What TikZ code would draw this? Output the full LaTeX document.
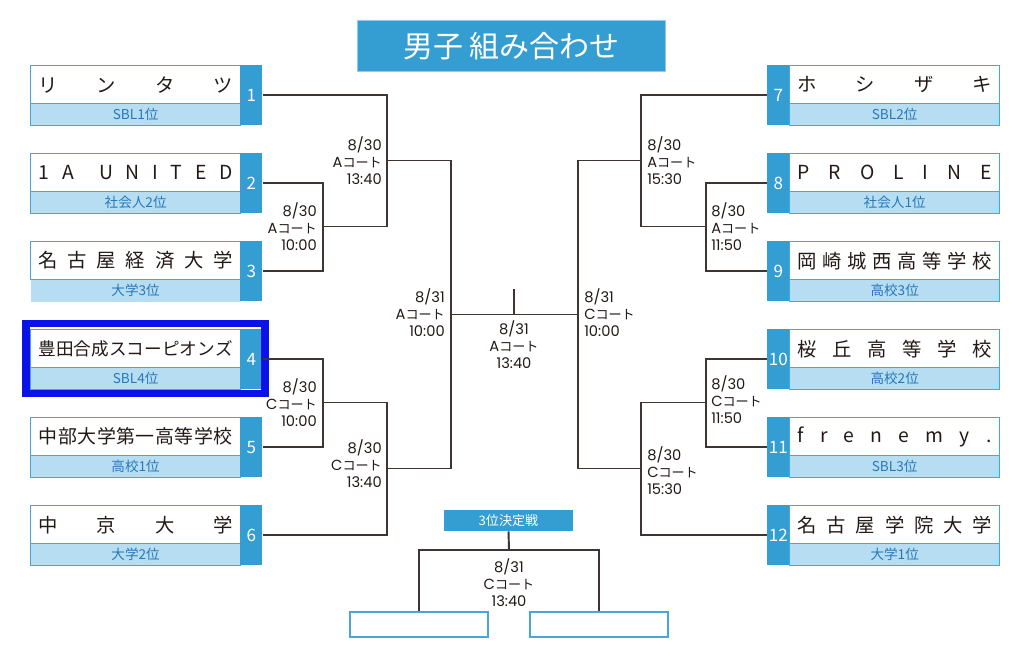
\documentclass[tikz,border=0pt]{standalone}
\usepackage{fontspec}
\setmainfont{Noto Sans CJK JP}
\newfontfamily\lat{Poppins}
\definecolor{mainblue}{RGB}{52,157,209}
\definecolor{lightblue}{RGB}{182,221,242}
\definecolor{borderblue}{RGB}{72,166,220}
\definecolor{subtext}{RGB}{38,120,186}
\definecolor{linec}{RGB}{62,52,50}
\definecolor{hlblue}{RGB}{10,18,232}
\definecolor{namec}{RGB}{35,26,24}
\newcommand\latf{\lat\fontsize{11}{12.75}\selectfont}
\newcommand\lab[3]{{\latf #1}\\{\latf #2}コート\\{\latf #3}}
\tikzset{
  namebox/.style={draw=borderblue,line width=1pt,fill=white,minimum width=157.5pt,minimum height=28.5pt,inner sep=0pt,text=namec,font=\fontsize{14.5}{16}\selectfont},
  subbox/.style={draw=borderblue,line width=1pt,fill=lightblue,minimum width=157.5pt,minimum height=16.5pt,inner sep=0pt,text=subtext,font=\fontsize{10.2}{11}\selectfont},
  numbox/.style={fill=mainblue,minimum width=16.5pt,minimum height=45pt,inner sep=0pt,text=white,font=\fontsize{12.8}{14}\selectfont},
  conn/.style={draw=linec,line width=1.45pt},
  lblr/.style={anchor=east,align=right,inner sep=0pt,text=namec,font=\fontsize{9.8}{12.75}\selectfont},
  lbll/.style={anchor=west,align=left,inner sep=0pt,text=namec,font=\fontsize{9.8}{12.75}\selectfont},
  lblc/.style={align=center,inner sep=0pt,text=namec,font=\fontsize{9.8}{12.75}\selectfont},
  titlebox/.style={fill=mainblue,draw=borderblue!60,line width=0.8pt,minimum width=231pt,minimum height=38pt,inner sep=0pt,text=white,font=\fontsize{22.5}{26}\selectfont},
  thirdbox/.style={fill=mainblue,minimum width=96.75pt,minimum height=15.75pt,inner sep=0pt,text=white,font=\fontsize{9.8}{11}\selectfont},
  emptybox/.style={draw=borderblue,line width=1.2pt,fill=white,minimum width=103.5pt,minimum height=18.75pt,inner sep=0pt},
  hlframe/.style={draw=hlblue,line width=5.3pt,minimum width=179.25pt,minimum height=52.5pt,inner sep=0pt}
}
\newcommand\LTeam[5][]{%
  \node[namebox,anchor=north west] (a#2) at (30,#3) {\hbox to 145.5pt{#4}};
  \node[subbox,anchor=north west,#1] (s#2) at (30,#3+38) {#5};
  \node[numbox,anchor=north west] (n#2) at (240,#3) {#2};
}
\newcommand\RTeam[5][]{%
  \node[namebox,anchor=north west] (a#2) at (789,#3) {\hbox to 145.5pt{#4}};
  \node[subbox,anchor=north west,#1] (s#2) at (789,#3+38) {#5};
  \node[numbox,anchor=north west] (n#2) at (767,#3) {#2};
}
\begin{document}
\begin{tikzpicture}[x=0.75pt,y=-0.75pt]
\fill[white] (0,0) rectangle (1024,666);
\useasboundingbox (0,0) rectangle (1024,666);

\node[titlebox] (title) at (511.5,46) {男子 組み合わせ};

\LTeam{1}{65}{リ\hfill ン\hfill タ\hfill ツ}{SBL1位}
\LTeam{2}{153}{1\hfill A\hfill\hfill U\hfill N\hfill I\hfill T\hfill E\hfill D}{社会人2位}
\LTeam[draw=none]{3}{241}{名\hfill 古\hfill 屋\hfill 経\hfill 済\hfill 大\hfill 学}{大学3位}
\LTeam{4}{329}{\fontsize{13.2}{16}\selectfont 豊\hfill 田\hfill 合\hfill 成\hfill ス\hfill コ\hfill ー\hfill ピ\hfill オ\hfill ン\hfill ズ}{SBL4位}
\LTeam{5}{417}{\fontsize{14.2}{16}\selectfont 中\hfill 部\hfill 大\hfill 学\hfill 第\hfill 一\hfill 高\hfill 等\hfill 学\hfill 校}{高校1位}
\LTeam{6}{505}{中\hfill 京\hfill 大\hfill 学}{大学2位}

\RTeam{7}{65}{ホ\hfill シ\hfill ザ\hfill キ}{SBL2位}
\RTeam{8}{153}{P\hfill R\hfill O\hfill L\hfill I\hfill N\hfill E}{社会人1位}
\RTeam{9}{241}{岡\hfill 崎\hfill 城\hfill 西\hfill 高\hfill 等\hfill 学\hfill 校}{高校3位}
\RTeam{10}{329}{桜\hfill 丘\hfill 高\hfill 等\hfill 学\hfill 校}{高校2位}
\RTeam{11}{417}{f\hfill r\hfill e\hfill n\hfill e\hfill m\hfill y\hfill .}{SBL3位}
\RTeam{12}{505}{名\hfill 古\hfill 屋\hfill 学\hfill 院\hfill 大\hfill 学}{大学1位}

\node[hlframe] (hl4) at (145.5,358.5) {};

% junctions
\coordinate (q23) at (323,226.5);
\coordinate (q123) at (387,160.5);
\coordinate (q45) at (323,402.5);
\coordinate (q456) at (387,468.5);
\coordinate (qL) at (451,314.5);
\coordinate (q89) at (706,226.5);
\coordinate (q789) at (641,160.5);
\coordinate (q1011) at (706,402.5);
\coordinate (q101112) at (641,468.5);
\coordinate (qR) at (578,314.5);
\coordinate (qC) at (514,314.5);
\coordinate (qTop) at (514,289);

\draw[conn] (n2.east) -| (q23) |- (n3.east);
\draw[conn] (n1.east) -| (q123) |- (q23);
\draw[conn] (n4.east) -| (q45) |- (n5.east);
\draw[conn] (n6.east) -| (q456) |- (q45);
\draw[conn] (q123) -| (qL) |- (q456);
\draw[conn] (n8.west) -| (q89) |- (n9.west);
\draw[conn] (n7.west) -| (q789) |- (q89);
\draw[conn] (n10.west) -| (q1011) |- (n11.west);
\draw[conn] (n12.west) -| (q101112) |- (q1011);
\draw[conn] (q789) -| (qR) |- (q101112);
\draw[conn] (qL) -- (qR);
\draw[conn] (qC) -- (qTop);

% labels
\node[lblr] (l1) at (382,160.5) {\lab{8/30}{A}{13:40}};
\node[lblr] (l2) at (317,226.5) {\lab{8/30}{A}{10:00}};
\node[lblr] (l3) at (317,402.5) {\lab{8/30}{C}{10:00}};
\node[lblr] (l4) at (382,464) {\lab{8/30}{C}{13:40}};
\node[lblr] (l5) at (445,313) {\lab{8/31}{A}{10:00}};
\node[lblc] (l6) at (514,345) {\lab{8/31}{A}{13:40}};
\node[lbll] (l7) at (584,313) {\lab{8/31}{C}{10:00}};
\node[lbll] (l8) at (647,160.5) {\lab{8/30}{A}{15:30}};
\node[lbll] (l9) at (711,226.5) {\lab{8/30}{A}{11:50}};
\node[lbll] (l10) at (711,400) {\lab{8/30}{C}{11:50}};
\node[lbll] (l11) at (647,471) {\lab{8/30}{C}{15:30}};

% third place
\node[thirdbox] (third) at (508.5,520.5) {3位決定戦};
\coordinate (t3) at (509,550);
\node[emptybox] (b1) at (419,624.5) {};
\node[emptybox] (b2) at (599,624.5) {};
\draw[conn] (third.south) -- (t3);
\draw[conn] (b1.north) |- (t3) -| (b2.north);
\node[lblc] (l12) at (509,583) {\lab{8/31}{C}{13:40}};
\end{tikzpicture}
\end{document}
